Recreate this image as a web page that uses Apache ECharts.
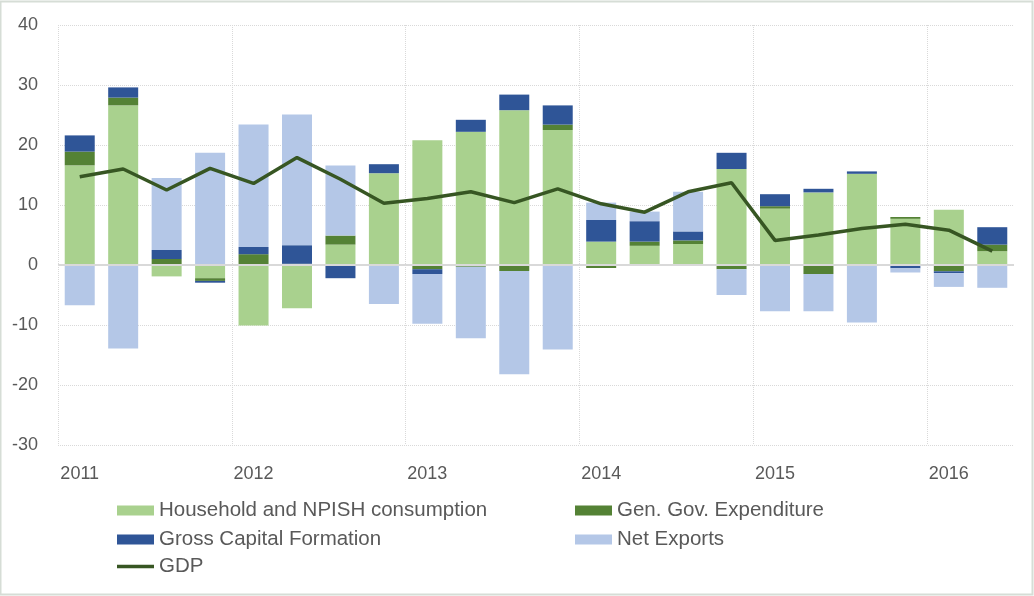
<html>
    <head>
        <meta charset="utf-8">
        <script src="https://cdn.jsdelivr.net/npm/echarts@6/dist/echarts.min.js"></script>
        <style>
            html, body { margin: 0; padding: 0; background: #fff; }
            #main { position: absolute; left: 0; top: 0; width: 1034px; height: 596px; }
        </style>
    </head>
    <body>
        <div id="main"></div>

        <script>
            // quarters 2011Q1 .. 2016Q2
            var quarters = [
                '2011Q1', '2011Q2', '2011Q3', '2011Q4',
                '2012Q1', '2012Q2', '2012Q3', '2012Q4',
                '2013Q1', '2013Q2', '2013Q3', '2013Q4',
                '2014Q1', '2014Q2', '2014Q3', '2014Q4',
                '2015Q1', '2015Q2', '2015Q3', '2015Q4',
                '2016Q1', '2016Q2'
            ];

            var household = [16.6, 26.6, -1.9, -2.2, -10.1, -7.2, 3.4, 15.3, 20.8, 22.2, 25.8, 22.5,
                             3.9, 3.2, 3.5, 16.0, 9.4, 12.1, 15.2, 7.7, 9.2, 2.3];
            var govExp = [2.3, 1.3, 1.0, -0.45, 1.8, 0.2, 1.5, 0, -0.7, -0.3, -1.0, 0.9,
                          -0.5, 0.7, 0.6, -0.7, 0.4, -1.5, 0, 0.3, -1.05, 1.1];
            var capForm = [2.7, 1.7, 1.5, -0.3, 1.2, 3.1, -2.2, 1.5, -0.8, 2.0, 2.6, 3.2,
                           3.6, 3.4, 1.5, 2.7, 2.0, 0.6, 0.4, -0.55, -0.3, 2.9];
            var netExports = [-6.7, -13.9, 12.0, 18.7, 20.4, 21.8, 11.7, -6.5, -8.3, -11.9, -17.2, -14.1,
                              2.9, 1.6, 6.6, -4.3, -7.7, -6.2, -9.6, -0.7, -2.3, -3.8];
            var gdp = [14.7, 16.0, 12.5, 16.1, 13.6, 17.9, 14.3, 10.3, 11.1, 12.2, 10.4, 12.7,
                       10.2, 8.8, 12.2, 13.7, 4.1, 5.0, 6.1, 6.8, 5.8, 2.3];

            var textColor = '#595959';
            var fontName = 'Liberation Sans';
            var gridColor = '#d9d9d9';

            var chart = echarts.init(document.getElementById('main'));

            function barSeries(name, data, color) {
                return {
                    name: name,
                    type: 'bar',
                    stack: 'contrib',
                    barWidth: 30,
                    data: data,
                    itemStyle: { color: color },
                    emphasis: { disabled: true }
                };
            }

            var series = [
                barSeries('Household and NPISH consumption', household, '#a9d18e'),
                barSeries('Gen. Gov. Expenditure', govExp, '#548235'),
                barSeries('Gross Capital Formation', capForm, '#2f5597'),
                barSeries('Net Exports', netExports, '#b4c7e7'),
                {
                    name: 'GDP',
                    type: 'line',
                    data: gdp,
                    symbol: 'none',
                    z: 5,
                    lineStyle: { color: '#375623', width: 3.5 },
                    itemStyle: { color: '#375623' }
                }
            ];
            // zero line
            series[0].markLine = {
                silent: true,
                symbol: 'none',
                label: { show: false },
                lineStyle: { color: gridColor, type: 'solid', width: 2 },
                data: [{ yAxis: 0 }]
            };

            var legendText = { color: textColor, fontFamily: fontName, fontSize: 20.5, lineHeight: 20 };

            function legendBox(names, left, top, h) {
                return {
                    data: names.map(function (n) { return { name: n, icon: 'rect' }; }),
                    orient: 'vertical',
                    left: left,
                    top: top,
                    padding: 0,
                    itemGap: 8,
                    itemWidth: 37,
                    itemHeight: h,
                    textStyle: legendText,
                    selectedMode: false
                };
            }

            chart.setOption({
                animation: false,
                grid: { left: 58, right: 20, top: 25, bottom: 151 },
                legend: [
                    legendBox(['Household and NPISH consumption', 'Gross Capital Formation'], 117, 500, 10),
                    legendBox(['Gen. Gov. Expenditure', 'Net Exports'], 575, 500, 10),
                    legendBox(['GDP'], 117, 556, 3.5)
                ],
                graphic: [
                    {
                        // hide the split line the category axis adds at the right edge
                        type: 'line',
                        silent: true,
                        z: 1,
                        shape: { x1: 1014, y1: 24, x2: 1014, y2: 446 },
                        style: { stroke: '#fff', lineWidth: 2 }
                    },
                    {
                        type: 'rect',
                        silent: true,
                        shape: { x: 0.5, y: 1.5, width: 1032, height: 593 },
                        style: { fill: 'none', stroke: '#d6ddd6', lineWidth: 2 }
                    }
                ],
                xAxis: {
                    type: 'category',
                    data: quarters,
                    axisLine: { show: false },
                    axisTick: { show: false },
                    axisLabel: {
                        interval: 3,
                        margin: 20,
                        color: textColor,
                        fontFamily: fontName,
                        fontSize: 18,
                        formatter: function (v) { return v.slice(0, 4); }
                    },
                    splitLine: {
                        show: true,
                        interval: 3,
                        lineStyle: { color: gridColor, type: 'dotted', width: 1 }
                    }
                },
                yAxis: {
                    type: 'value',
                    min: -30,
                    max: 40,
                    interval: 10,
                    axisLine: { show: false },
                    axisTick: { show: false },
                    axisLabel: {
                        margin: 20,
                        color: textColor,
                        fontFamily: fontName,
                        fontSize: 18
                    },
                    splitLine: {
                        lineStyle: { color: gridColor, type: 'dotted', width: 1 }
                    }
                },
                series: series
            });
        </script>
    </body>
</html>
